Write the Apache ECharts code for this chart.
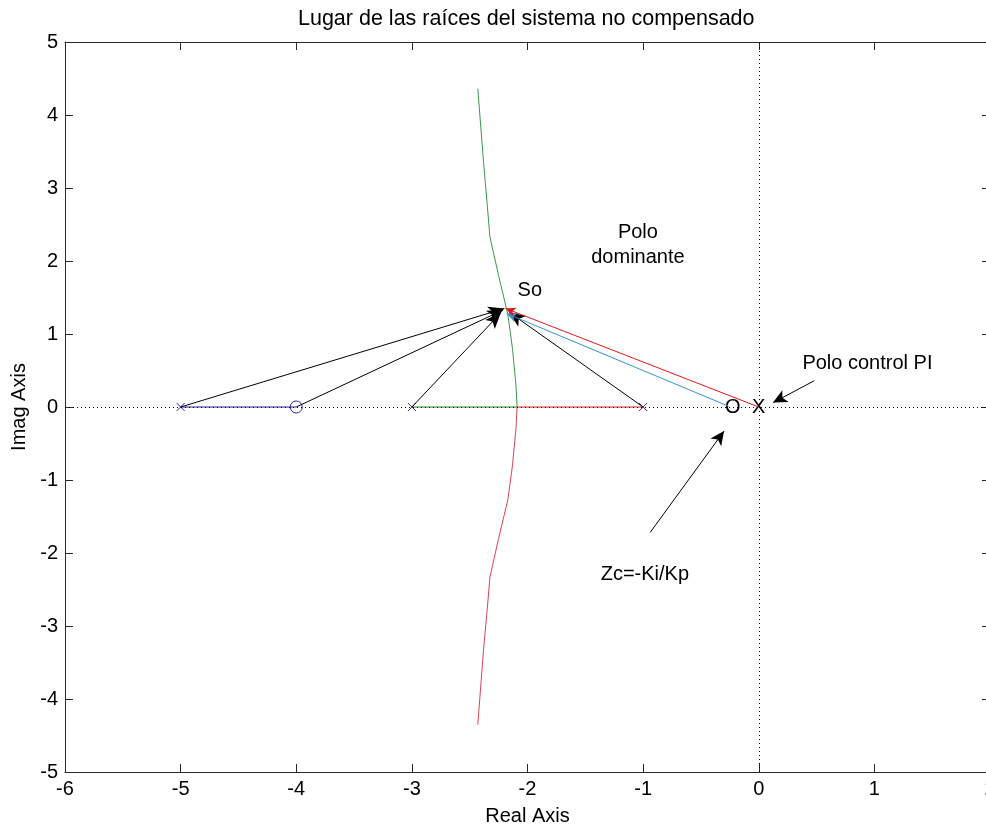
<!DOCTYPE html>
<html>
<head>
<meta charset="utf-8">
<title>Lugar de las raíces</title>
<script src="https://cdn.jsdelivr.net/npm/echarts@6/dist/echarts.min.js"></script>
<style>
  html, body {margin: 0; padding: 0; background: #fff; overflow: hidden;}
  #main {width: 986px; height: 827px;}
</style>
</head>
<body>
<div id="main"></div>
<script>
// 刻度
const xTicks = [-6, -5, -4, -3, -2, -1, 0, 1, 2];
const yTicks = [-5, -4, -3, -2, -1, 0, 1, 2, 3, 4, 5];

// 开环极点 / 零点
const olPoles = [[-5, 0], [-3, 0], [-1, 0]];
const olZeros = [[-4, 0]];

// 根轨迹分支
const branchBlue = [[-5, 0], [-4, 0]];
const branchGreenReal = [[-3, 0], [-2.09, 0]];
const branchRedReal = [[-1, 0], [-2.09, 0]];
const branchGreenUp = [[-2.09, 0], [-2.10, 0.3], [-2.13, 0.8], [-2.17, 1.27], [-2.25, 1.8], [-2.325, 2.33], [-2.35, 2.8], [-2.38, 3.35], [-2.43, 4.36]];
const branchRedDown = [[-2.09, 0], [-2.10, -0.3], [-2.13, -0.8], [-2.17, -1.27], [-2.25, -1.8], [-2.325, -2.33], [-2.35, -2.8], [-2.38, -3.32], [-2.43, -4.35]];

// 控制器 PI 的极点 X 和零点 O
const piMarks = [{name: 'O', value: [-0.225, 0]}, {name: 'X', value: [0, 0]}];

// 向量 (起点 -> 终点)
const blackVectors = [
  [[-5, 0], [-2.20, 1.35]],
  [[-4, 0], [-2.21, 1.33]],
  [[-3, 0], [-2.23, 1.29]],
  [[-1, 0], [-2.16, 1.30]]
];
const redVectors = [[[0, 0], [-2.19, 1.35]]];
const blueVectors = [[[-0.26, 0.01], [-2.18, 1.28]]];
const noteArrows = [
  [[0.48, 0.36], [0.124, 0.06]],
  [[-0.94, -1.72], [-0.30, -0.33]]
];

// 文字标注
const textNotes = [
  {name: 'So', value: [-1.98, 1.59]},
  {name: 'Polo\ndominante', value: [-1.045, 2.22]},
  {name: 'Polo control PI', value: [0.94, 0.60]},
  {name: 'Zc=-Ki/Kp', value: [-0.985, -2.30]}
];

const FONT = 'Liberation Sans, Arial, sans-serif';

/**
 * 根轨迹线
 */
function branch(data, color) {
  return {
    type: 'line', data: data, symbol: 'none', silent: true,
    lineStyle: {color: color, width: 1}
  };
}

/**
 * 带箭头的向量，用 markLine 画
 */
function vectors(list, color, head) {
  return {
    type: 'line', data: [], silent: true,
    markLine: {
      silent: true, symbol: ['none', 'arrow'], symbolSize: head,
      label: {show: false},
      lineStyle: {color: color, width: 1, type: 'solid'},
      data: list.map(v => [{coord: v[0]}, {coord: v[1]}])
    }
  };
}

/**
 * 纯文字的散点
 */
function texts(data, size) {
  return {
    type: 'scatter', data: data, symbolSize: 0, silent: true,
    itemStyle: {opacity: 1},
    label: {
      show: true, position: 'inside', formatter: p => p.name,
      color: '#000', opacity: 1, fontSize: size, fontFamily: FONT, lineHeight: 25,
      textBorderWidth: 0, textBorderColor: 'transparent'
    }
  };
}

const axisCommon = {
  axisLine: {onZero: false, lineStyle: {color: '#2a2a2a', width: 1}},
  axisTick: {inside: true, length: 8, lineStyle: {color: '#2a2a2a'}},
  splitLine: {show: false}
};

const option = {
  animation: false,
  backgroundColor: '#fff',
  title: {
    text: 'Lugar de las raíces del sistema no compensado',
    left: 293, top: 3,
    textStyle: {fontSize: 21.5, fontWeight: 'normal', color: '#000', fontFamily: FONT}
  },
  grid: {left: 65, top: 42, width: 925, height: 730, outerBoundsMode: 'none'},
  xAxis: [
    Object.assign({
      type: 'value', min: xTicks[0], max: xTicks[xTicks.length - 1], interval: 1,
      name: 'Real Axis', nameLocation: 'middle', nameGap: 34,
      nameTextStyle: {fontSize: 20, color: '#000', fontFamily: FONT},
      axisLabel: {fontSize: 20, color: '#000', fontFamily: FONT, margin: 7}
    }, axisCommon),
    Object.assign({
      type: 'value', position: 'top', min: xTicks[0], max: xTicks[xTicks.length - 1], interval: 1,
      axisLabel: {show: false}
    }, axisCommon)
  ],
  yAxis: [
    Object.assign({
      type: 'value', min: yTicks[0], max: yTicks[yTicks.length - 1], interval: 1,
      name: 'Imag Axis', nameLocation: 'middle', nameGap: 25,
      nameTextStyle: {fontSize: 20, color: '#000', fontFamily: FONT},
      axisLabel: {fontSize: 20, color: '#000', fontFamily: FONT, margin: 7}
    }, axisCommon),
    Object.assign({}, axisCommon, {
      type: 'value', position: 'right', min: yTicks[0], max: yTicks[yTicks.length - 1], interval: 1,
      axisLine: {show: true, onZero: false, lineStyle: {color: 'rgba(0,0,0,0)'}},
      axisLabel: {show: false}
    })
  ],
  series: [
    // 虚线坐标轴
    {
      type: 'line', data: [], silent: true,
      markLine: {
        silent: true, symbol: 'none', label: {show: false},
        lineStyle: {color: '#000', width: 1, type: [1, 3]},
        data: [{xAxis: 0}, {yAxis: 0}]
      }
    },
    branch(branchBlue, '#2626a8'),
    branch(branchGreenReal, '#1c8a1c'),
    branch(branchRedReal, '#dd2020'),
    branch(branchGreenUp, '#3a9a4a'),
    branch(branchRedDown, '#dd4455'),
    {
      type: 'scatter', data: olPoles, silent: true,
      symbol: 'path://M0,0L10,10M10,0L0,10', symbolSize: 8,
      itemStyle: {color: 'none', borderColor: '#2626a8', borderWidth: 1, opacity: 1}
    },
    {
      type: 'scatter', data: olZeros, silent: true,
      symbol: 'circle', symbolSize: 12,
      itemStyle: {color: 'none', borderColor: '#2626a8', borderWidth: 1, opacity: 1}
    },
    vectors(blackVectors, '#000', [10, 16]),
    vectors(blueVectors, '#3a8fd6', [7, 10]),
    vectors(redVectors, '#e01818', [7, 10]),
    vectors(noteArrows, '#000', [10, 14]),
    texts(piMarks, 20),
    texts(textNotes, 20)
  ]
};

const myChart = echarts.init(document.getElementById('main'));
myChart.setOption(option);
</script>
</body>
</html>
